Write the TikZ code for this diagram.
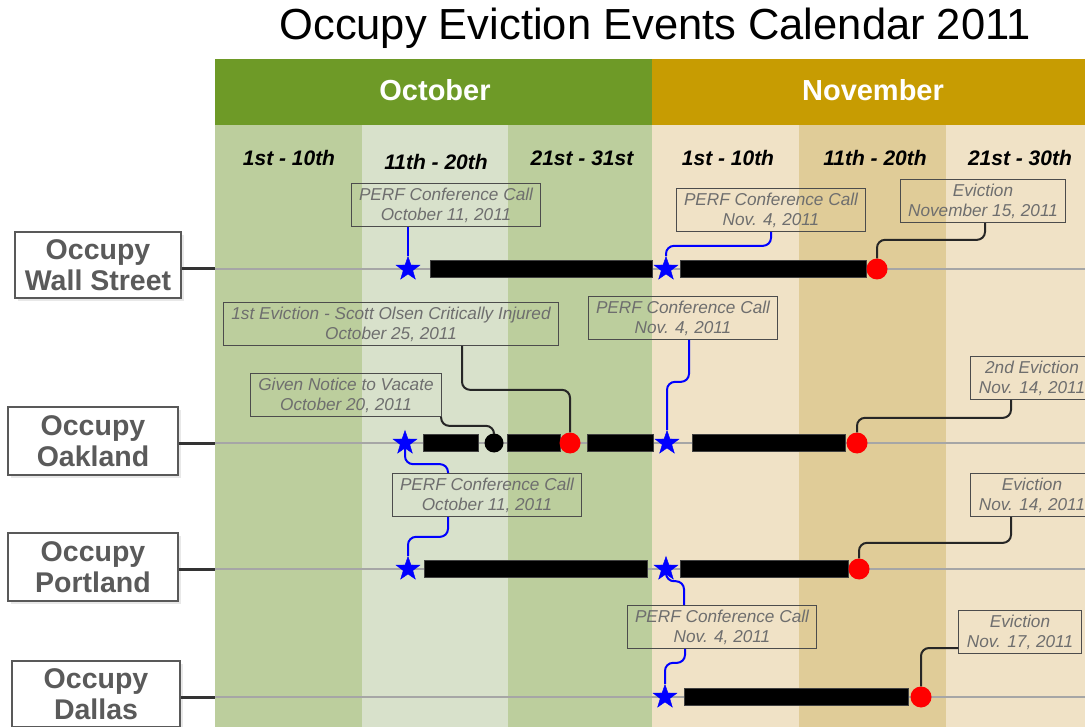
\documentclass[tikz,border=0pt]{standalone}
\usepackage{fontspec}
\setmainfont{Liberation Sans}
\usetikzlibrary{positioning}
\usetikzlibrary{shapes}
\usetikzlibrary{calc}
\usetikzlibrary{shadows}

\definecolor{octhead}{HTML}{6E9A27}
\definecolor{novhead}{HTML}{C79C02}
\definecolor{octdark}{HTML}{BCCE9D}
\definecolor{octlight}{HTML}{D8E1CB}
\definecolor{novlight}{HTML}{F0E2C6}
\definecolor{novdark}{HTML}{E0CC98}
\definecolor{calltext}{HTML}{6E6E6E}
\definecolor{labeltext}{HTML}{5A5A5A}

\begin{document}
\begin{tikzpicture}[
	x=1pt,
	y=-1pt,
	rounded corners=0pt]

\tikzstyle{callout}=[draw=gray!60!black, line width=1pt, inner xsep=8pt, inner ysep=4pt,
	align=center, text=calltext, font=\fontsize{17.2}{20}\selectfont\itshape]
\tikzstyle{occupy}=[draw=gray!70!black, line width=1.5pt, fill=white,
	drop shadow={shadow xshift=3pt, shadow yshift=-3pt, fill=gray!35},
	minimum width=166pt, minimum height=66pt, inner sep=0pt, align=center,
	text=labeltext, font=\fontsize{28.5}{31}\selectfont\bfseries]
\tikzstyle{conf call}=[star, star points=5, star point ratio=2.5, fill=blue, draw=blue,
	minimum size=25pt, inner sep=0pt]
\tikzstyle{eviction}=[circle, fill=red, minimum size=21pt, inner sep=0pt]
\tikzstyle{notice}=[circle, fill=black, minimum size=19pt, inner sep=0pt]
\tikzstyle{bar}=[fill=black, draw=gray!50!black, line width=0.6pt]
\tikzstyle{row stub}=[line width=3pt, gray!40!black]
\tikzstyle{row line}=[line width=1.6pt, gray!70]
\tikzstyle{blue link}=[line width=2pt, blue, rounded corners=8pt]
\tikzstyle{black link}=[line width=2pt, black!85, rounded corners=8pt]
\tikzstyle{column}=[font=\fontsize{21}{24}\selectfont\bfseries\itshape]
\tikzstyle{month}=[text=white, font=\fontsize{29}{32}\selectfont\bfseries]

\def\WallStY{269}
\def\OaklandY{443}
\def\PortlandY{569}
\def\DallasY{697}
\def\BarHalf{8.5}

\useasboundingbox (0,0) rectangle (1085,727);

% Title
\node (title) at (655,28) {\fontsize{43.5}{48}\selectfont Occupy Eviction Events Calendar 2011};

% Month bands
\fill[octhead] (215,59) rectangle (652,125);
\fill[novhead] (652,59) rectangle (1085,125);
\node[month] (october) at (435,90) {October};
\node[month] (november) at (873,90) {November};

% Ten day columns
\fill[octdark] (215,125) rectangle (362,727);
\fill[octlight] (362,125) rectangle (508,727);
\fill[octdark] (508,125) rectangle (652,727);
\fill[novlight] (652,125) rectangle (799,727);
\fill[novdark] (799,125) rectangle (946,727);
\fill[novlight] (946,125) rectangle (1085,727);

\node[column] (oct1) at (289,158) {1st - 10th};
\node[column] (oct2) at (436,162) {11th - 20th};
\node[column] (oct3) at (582,158) {21st - 31st};
\node[column] (nov1) at (728,158) {1st - 10th};
\node[column] (nov2) at (875,158) {11th - 20th};
\node[column] (nov3) at (1020,158) {21st - 30th};

% Occupy labels
\node[occupy] (lWS) at (98,265) {Occupy\\Wall Street};
\node[occupy, minimum width=170pt, minimum height=68pt] (lOK) at (93,441) {Occupy\\Oakland};
\node[occupy, minimum width=170pt, minimum height=68pt] (lPT) at (93,567) {Occupy\\Portland};
\node[occupy, minimum width=168pt] (lDL) at (96,694) {Occupy\\Dallas};

% Time lines
\coordinate (gWS) at (215,\WallStY);
\coordinate (gOK) at (215,\OaklandY);
\coordinate (gPT) at (215,\PortlandY);
\coordinate (gDL) at (215,\DallasY);
\coordinate (endWS) at (1085,\WallStY);
\coordinate (endOK) at (1085,\OaklandY);
\coordinate (endPT) at (1085,\PortlandY);
\coordinate (endDL) at (1085,\DallasY);

\draw[row stub] (lWS.east |- gWS) -- (gWS);
\draw[row stub] (lOK.east |- gOK) -- (gOK);
\draw[row stub] (lPT.east |- gPT) -- (gPT);
\draw[row stub] (lDL.east |- gDL) -- (gDL);
\draw[row line] (gWS) -- (endWS);
\draw[row line] (gOK) -- (endOK);
\draw[row line] (gPT) -- (endPT);
\draw[row line] (gDL) -- (endDL);

% Occupation periods
\draw[bar] (430,\WallStY-\BarHalf) rectangle (652,\WallStY+\BarHalf);
\draw[bar] (680,\WallStY-\BarHalf) rectangle (866,\WallStY+\BarHalf);
\draw[bar] (423,\OaklandY-\BarHalf) rectangle (478,\OaklandY+\BarHalf);
\draw[bar] (507,\OaklandY-\BarHalf) rectangle (560,\OaklandY+\BarHalf);
\draw[bar] (587,\OaklandY-\BarHalf) rectangle (653,\OaklandY+\BarHalf);
\draw[bar] (692,\OaklandY-\BarHalf) rectangle (845,\OaklandY+\BarHalf);
\draw[bar] (424,\PortlandY-\BarHalf) rectangle (647,\PortlandY+\BarHalf);
\draw[bar] (680,\PortlandY-\BarHalf) rectangle (848,\PortlandY+\BarHalf);
\draw[bar] (684,\DallasY-\BarHalf) rectangle (908,\DallasY+\BarHalf);

% Events
\node[conf call] (sWSa) at (408,\WallStY) {};
\node[conf call] (sWSb) at (666,\WallStY) {};
\node[eviction] (eWSa) at (877,\WallStY) {};
\node[conf call] (sOKa) at (405,\OaklandY) {};
\node[notice] (bOKa) at (494,\OaklandY) {};
\node[eviction] (eOKa) at (570,\OaklandY) {};
\node[conf call] (sOKb) at (667,\OaklandY) {};
\node[eviction] (eOKb) at (857,\OaklandY) {};
\node[conf call] (sPTa) at (408,\PortlandY) {};
\node[conf call] (sPTb) at (666,\PortlandY) {};
\node[eviction] (ePTa) at (859,\PortlandY) {};
\node[conf call] (sDLa) at (665,\DallasY) {};
\node[eviction] (eDLa) at (921,\DallasY) {};

% Call outs
\node[callout] (cWSa) at (446,205) {PERF Conference Call\\October 11, 2011};
\node[callout] (cWSb) at (771,210) {PERF Conference Call\\Nov. 4, 2011};
\node[callout] (cWSc) at (983,201) {Eviction\\November 15, 2011};
\node[callout] (cOKa) at (391,324) {1st Eviction - Scott Olsen Critically Injured\\October 25, 2011};
\node[callout] (cOKb) at (346,395) {Given Notice to Vacate\\October 20, 2011};
\node[callout] (cOKc) at (683,318) {PERF Conference Call\\Nov. 4, 2011};
\node[callout] (cOKd) at (1032,378) {2nd Eviction\\Nov. 14, 2011};
\node[callout] (cPTa) at (487,495) {PERF Conference Call\\October 11, 2011};
\node[callout] (cPTb) at (1032,495) {Eviction\\Nov. 14, 2011};
\node[callout] (cDLa) at (722,627) {PERF Conference Call\\Nov. 4, 2011};
\node[callout] (cDLb) at (1020,632) {Eviction\\Nov. 17, 2011};

% Links to the events
\draw[blue link] (sWSa.north |- cWSa.south) -- (sWSa.north);
\draw[blue link] (cWSb.south) -- ++(0,14) -| (sWSb.north);
\draw[black link] ([xshift=2pt]cWSc.south) -- ++(0,17) -| (eWSa.north);

\draw[black link] ([xshift=71pt]cOKa.south) -- ++(0,44) -| (eOKa.north);
\draw[black link] ([xshift=-1pt]cOKb.south east) -- ++(0,9) -| (bOKa.north);
\draw[blue link] ([xshift=6pt]cOKc.south) -- ++(0,42) -| (sOKb.north);
\draw[black link] ([xshift=-21pt]cOKd.south) -- ++(0,18) -| (eOKb.north);

\draw[blue link] ([xshift=-39pt]cPTa.north) -- ++(0,-9) -| (sOKa.south);
\draw[blue link] ([xshift=-39pt]cPTa.south) -- ++(0,20) -| (sPTa.north);
\draw[black link] ([xshift=-21pt]cPTb.south) -- ++(0,26) -| (ePTa.north);

\draw[blue link] (sPTb.south) -- ++(0,7) -| ([xshift=-38pt]cDLa.north);
\draw[blue link] ([xshift=-37pt]cDLa.south) -- ++(0,14) -| (sDLa.north);
\draw[black link] ([yshift=-16pt]cDLb.west) -| (eDLa.north);

\end{tikzpicture}
\end{document}
